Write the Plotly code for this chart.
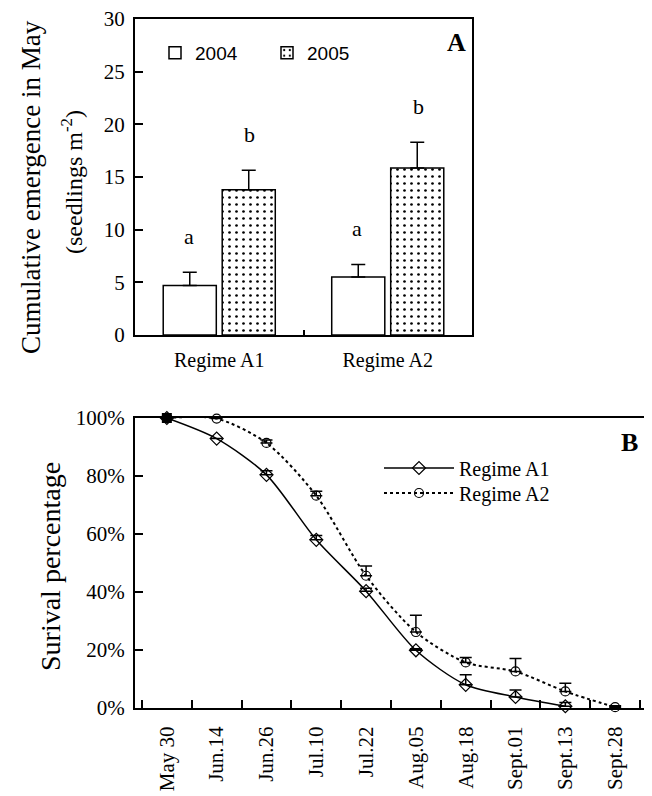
import plotly.graph_objects as go

# ---------------- Panel A data ----------------
regimes = ["Regime A1", "Regime A2"]
emerg_2004 = [4.7, 5.5]
emerg_2004_err = [1.25, 1.2]
emerg_2005 = [13.8, 15.85]
emerg_2005_err = [1.85, 2.45]
letters_2004 = ["a", "a"]
letters_2005 = ["b", "b"]

# ---------------- Panel B data ----------------
dates = ["May 30", "Jun.14", "Jun.26", "Jul.10", "Jul.22", "Aug.05",
         "Aug.18", "Sept.01", "Sept.13", "Sept.28"]
surv_a1 = [100, 92.9, 80.4, 58.0, 40.3, 19.9, 8.0, 3.8, 0.6, None]
surv_a1_err = [0, 0, 1.4, 1.5, 1.0, 0.5, 3.5, 2.4, 1.3, 0]
surv_a2 = [100, 99.8, 91.4, 73.2, 45.6, 26.2, 15.7, 12.6, 5.7, 0.3]
surv_a2_err = [0, 0, 1.0, 1.5, 3.4, 5.8, 1.7, 4.5, 2.8, 0.5]

SERIF = "Liberation Serif"
SANS = "Liberation Sans"
OFF = 8                      # page body margin of the html page
W, H = 652 - OFF, 796 - OFF  # figure size so it fits the window


def px_x(p):
    return (p - OFF) / W


def px_y(p):
    return 1 - (p - OFF) / H


fig = go.Figure()

# Panel A bars
fig.add_trace(go.Bar(
    x=regimes, y=emerg_2004, name="2004",
    marker=dict(color="white", line=dict(color="black", width=1.5)),
    error_y=dict(type="data", array=emerg_2004_err, arrayminus=[0] * len(emerg_2004_err),
                 color="black", thickness=1.5, width=7),
    xaxis="x", yaxis="y", legend="legend2",
))
fig.add_trace(go.Bar(
    x=regimes, y=emerg_2005, name="2005",
    marker=dict(color="white", line=dict(color="black", width=1.5),
                pattern=dict(shape=".", fgcolor="black", bgcolor="white",
                             size=7, solidity=0.12)),
    error_y=dict(type="data", array=emerg_2005_err, arrayminus=[0] * len(emerg_2005_err),
                 color="black", thickness=1.5, width=7),
    xaxis="x", yaxis="y", legend="legend2",
))

# Panel B lines
fig.add_trace(go.Scatter(
    x=dates, y=surv_a1, name="Regime A1", mode="lines+markers",
    line=dict(color="black", width=1.5, shape="spline", smoothing=0.8),
    marker=dict(symbol="diamond-open", size=10, color="black", line=dict(width=1.2)),
    error_y=dict(type="data", array=surv_a1_err, arrayminus=[0] * len(surv_a1_err),
                 color="black", thickness=1.5, width=6),
    cliponaxis=False, connectgaps=False,
    xaxis="x2", yaxis="y2", legend="legend",
))
fig.add_trace(go.Scatter(
    x=dates, y=surv_a2, name="Regime A2", mode="lines+markers",
    line=dict(color="black", width=2, dash="dot", shape="spline", smoothing=0.8),
    marker=dict(symbol="circle-open", size=9, color="black", line=dict(width=1.2)),
    error_y=dict(type="data", array=surv_a2_err, arrayminus=[0] * len(surv_a2_err),
                 color="black", thickness=1.5, width=6),
    cliponaxis=False,
    xaxis="x2", yaxis="y2", legend="legend3",
))
# starting points (filled)
fig.add_trace(go.Scatter(
    x=dates[:1], y=surv_a1[:1], mode="markers", showlegend=False,
    marker=dict(symbol="square", size=10, color="black"), cliponaxis=False,
    xaxis="x2", yaxis="y2",
))
fig.add_trace(go.Scatter(
    x=dates[:1], y=surv_a2[:1], mode="markers", showlegend=False,
    marker=dict(symbol="circle", size=9, color="black"), cliponaxis=False,
    xaxis="x2", yaxis="y2",
))

annotations = []
# significance letters
for i, r in enumerate(regimes):
    annotations.append(dict(x=i - 0.18, y=emerg_2004[i] + emerg_2004_err[i] + 2.0,
                            xref="x", yref="y", text=letters_2004[i], showarrow=False,
                            font=dict(family=SERIF, size=22, color="black"),
                            yanchor="bottom"))
    annotations.append(dict(x=i + 0.18, y=emerg_2005[i] + emerg_2005_err[i] + 2.0,
                            xref="x", yref="y", text=letters_2005[i], showarrow=False,
                            font=dict(family=SERIF, size=22, color="black"),
                            yanchor="bottom"))

# panel letters
annotations.append(dict(x=px_x(456), y=px_y(43), xref="paper", yref="paper", text="<b>A</b>",
                        xanchor="center", yanchor="middle",
                        showarrow=False, font=dict(family=SERIF, size=26, color="black")))
annotations.append(dict(x=px_x(629), y=px_y(442), xref="paper", yref="paper", text="<b>B</b>",
                        xanchor="center", yanchor="middle",
                        showarrow=False, font=dict(family=SERIF, size=26, color="black")))

# Panel A y title (two lines)
annotations.append(dict(x=px_x(31), y=px_y(187), xref="paper", yref="paper",
                        xanchor="center", yanchor="middle",
                        text="Cumulative emergence in May", textangle=-90, showarrow=False,
                        font=dict(family=SERIF, size=27, color="black")))
annotations.append(dict(x=px_x(72), y=px_y(182), xref="paper", yref="paper",
                        xanchor="center", yanchor="middle",
                        text="(seedlings m<sup>-2</sup>)", textangle=-90, showarrow=False,
                        font=dict(family=SERIF, size=24, color="black")))
# Panel B y title
annotations.append(dict(x=px_x(50), y=px_y(567), xref="paper", yref="paper",
                        xanchor="center", yanchor="middle",
                        text="Surival percentage", textangle=-90, showarrow=False,
                        font=dict(family=SERIF, size=28, color="black")))

axis_common = dict(showline=True, linecolor="black", linewidth=2, mirror=True,
                   showgrid=False, zeroline=False, ticks="inside", tickcolor="black",
                   tickwidth=1.5, automargin=False, ticklabeloverflow="allow")

fig.update_layout(
    template="none",
    width=W, height=H,
    margin=dict(l=0, r=0, t=0, b=0, pad=0),
    paper_bgcolor="white", plot_bgcolor="white",
    barmode="group", bargap=0.3, bargroupgap=0.1,
    font=dict(family=SERIF, size=20, color="black"),
    xaxis=dict(domain=[px_x(135), px_x(472)], anchor="y", type="category",
               tickson="boundaries", ticklen=5, ticklabelstandoff=6,
               tickfont=dict(family=SERIF, size=20), **axis_common),
    yaxis=dict(domain=[px_y(335), px_y(19)], anchor="x", range=[0, 30], dtick=5,
               ticklen=8, ticklabelstandoff=4,
               tickfont=dict(family=SERIF, size=21), **axis_common),
    xaxis2=dict(domain=[px_x(135), px_x(647)], anchor="y2", type="category",
                tickson="boundaries", ticklen=8, tickangle=-90, ticklabelstandoff=8,
                tickfont=dict(family=SERIF, size=21), **axis_common),
    yaxis2=dict(domain=[px_y(708), px_y(418)], anchor="x2", range=[0, 100], dtick=20,
                ticksuffix="%", ticklen=8, ticklabelstandoff=4,
                tickfont=dict(family=SERIF, size=21), **axis_common),
    legend=dict(x=px_x(379), y=px_y(468), xanchor="left", yanchor="middle",
                bgcolor="rgba(0,0,0,0)", font=dict(family=SERIF, size=20),
                itemwidth=70),
    legend3=dict(x=px_x(379), y=px_y(493), xanchor="left", yanchor="middle",
                 bgcolor="rgba(0,0,0,0)", font=dict(family=SERIF, size=20),
                 itemwidth=70),
    legend2=dict(x=px_x(155), y=px_y(53), xanchor="left", yanchor="middle",
                 orientation="h", bgcolor="rgba(0,0,0,0)",
                 font=dict(family=SANS, size=19), entrywidth=67),
    annotations=annotations,
    showlegend=True,
)

fig.write_html("out.html")
